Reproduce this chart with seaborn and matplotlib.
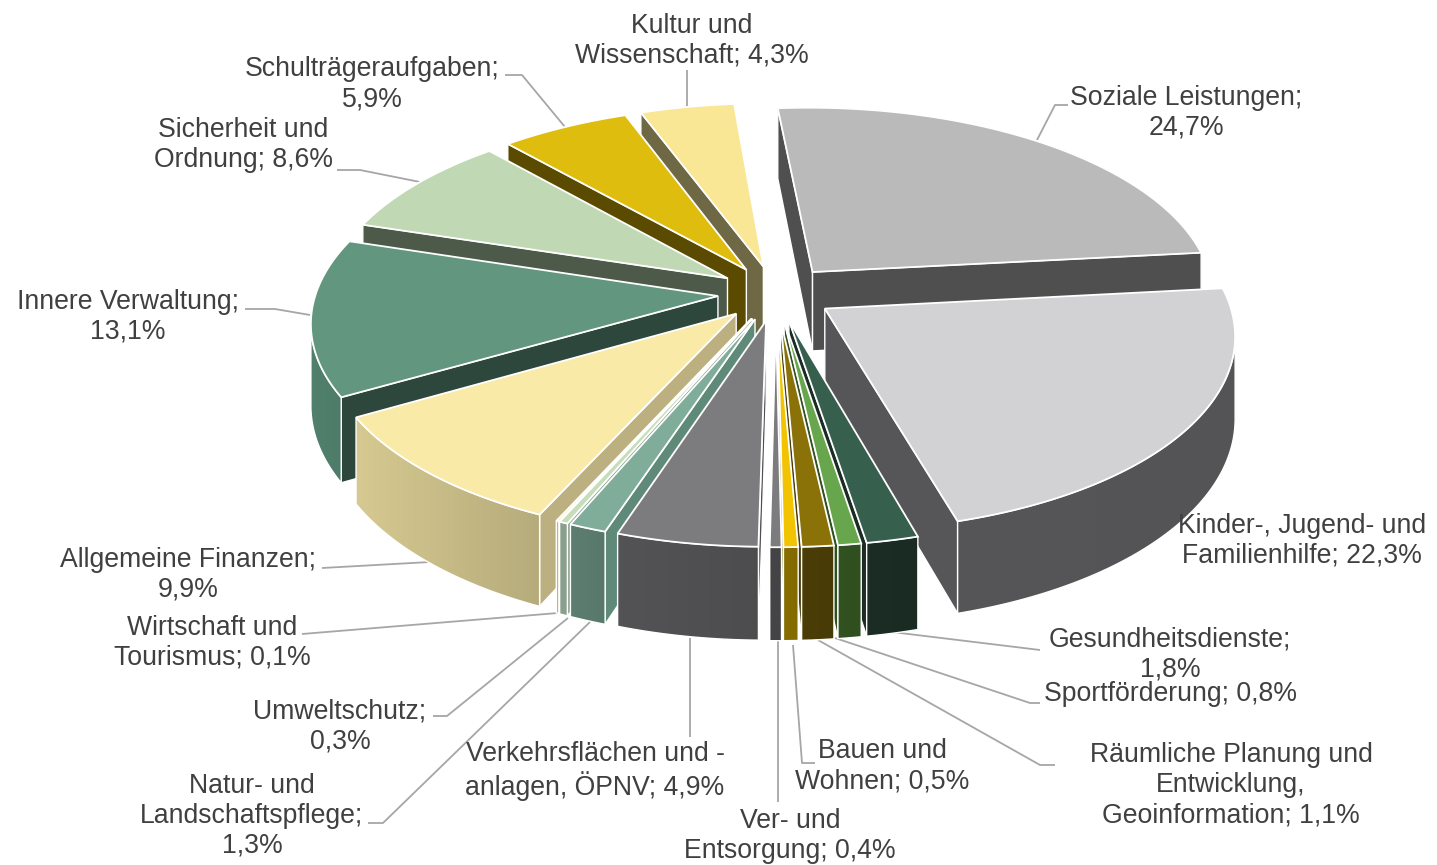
import numpy as np
import matplotlib
matplotlib.use("Agg")
import matplotlib.pyplot as plt
from matplotlib.colors import to_rgb
from matplotlib.patches import Polygon
import seaborn as sns

categories = ["Soziale Leistungen", "Kinder-, Jugend- und Familienhilfe", "Gesundheitsdienste",
              "Sportförderung", "Räumliche Planung und Entwicklung, Geoinformation", "Bauen und Wohnen",
              "Ver- und Entsorgung", "Verkehrsflächen und -anlagen, ÖPNV", "Natur- und Landschaftspflege",
              "Umweltschutz", "Wirtschaft und Tourismus", "Allgemeine Finanzen", "Innere Verwaltung",
              "Sicherheit und Ordnung", "Schulträgeraufgaben", "Kultur und Wissenschaft"]
shares = [24.7, 22.3, 1.8, 0.8, 1.1, 0.5, 0.4, 4.9, 1.3, 0.3, 0.1, 9.9, 13.1, 8.6, 5.9, 4.3]

top_colors = ["#BABABA", "#D2D2D4", "#375F4E", "#68A64E", "#8A7209", "#F2C300", "#7C7C7E", "#7C7C7E",
              "#7FAD9A", "#C6DDBA", "#F5E9A0", "#F9EAA8", "#62967E", "#C0D9B4", "#DFBD0F", "#F9E796"]
rim_colors = ["#4E4E4E", "#555557", "#1A2C24", "#31501F", "#493C06", "#856C00", "#444446", "#505052",
              "#5A7B6E", "#8AA08D", "#C9BC50", "#C6BA86", "#4F7E6A", "#4E5A49", "#5B4B00", "#6F6845"]
cut_colors = ["#4F4F4F", "#565658", "#1A2C24", "#31501F", "#493C06", "#856C00", "#444446", "#505052",
              "#5F8A7A", "#8AA08D", "#C9BC50", "#BDB080", "#2D473C", "#4E5A49", "#5B4B00", "#6F6845"]
rim_gradient = [0.0, 0.01, 0.02, 0.02, 0.02, 0.02, 0.0, 0.04,
                0.03, 0.0, 0.0, 0.08, 0.02, 0.0, 0.0, 0.0]

label_texts = ["Soziale Leistungen;\n24,7%", "Kinder-, Jugend- und\nFamilienhilfe; 22,3%", "Gesundheitsdienste;\n1,8%",
               "Sportförderung; 0,8%", "Räumliche Planung und\nEntwicklung,\nGeoinformation; 1,1%",
               "Bauen und\nWohnen; 0,5%", "Ver- und\nEntsorgung; 0,4%", "Verkehrsflächen und -\nanlagen, ÖPNV; 4,9%",
               "Natur- und\nLandschaftspflege;\n1,3%", "Umweltschutz;\n0,3%", "Wirtschaft und\nTourismus; 0,1%",
               "Allgemeine Finanzen;\n9,9%", "Innere Verwaltung;\n13,1%", "Sicherheit und\nOrdnung; 8,6%",
               "Schulträgeraufgaben;\n5,9%", "Kultur und\nWissenschaft; 4,3%"]
label_xy = [(1186, 113), (1302, 541), (1170, 655), (1170, 694), (1231, 785), (882, 766), (790, 836), (595, 771),
            (252, 816), (340, 726), (212, 643), (188, 575), (128, 317), (243, 145), (372, 84), (692, 41)]
leaders = [[(1068, 105), (1055, 105), (1037, 140)], None, [(892, 632), (1040, 650)],
           [(835, 638), (1030, 703), (1040, 703)], [(818, 640), (1040, 765), (1055, 765)],
           [(793, 645), (802, 763), (815, 763)], [(778, 640), (778, 802)], [(690, 638), (690, 737)],
           [(590, 622), (383, 823), (368, 823)], [(568, 618), (447, 716), (433, 716)], [(558, 613), (302, 634)],
           [(430, 562), (322, 568)], [(310, 315), (275, 309), (245, 309)], [(420, 182), (360, 170), (337, 170)],
           [(565, 127), (522, 75), (505, 75)], [(687, 70), (687, 107)]]

# view geometry
CX, CY = 776, 293
A, B, PERSP, DEPTH = 402, 190, 0.126, 80
START = -5.0
EXPLODE = 0.145

sns.set_theme(style="white")
plt.rcParams["font.family"] = ["Liberation Sans", "DejaVu Sans"]

fig = plt.figure(figsize=(14.37, 8.65), dpi=100)
ax = fig.add_axes([0, 0, 1, 1])
ax.set_xlim(0, 1437)
ax.set_ylim(865, 0)
ax.axis("off")


def project(X, Y, bottom=False):
    w = 1 - PERSP * Y
    return CX + A * X / w, CY + (B * Y + (DEPTH if bottom else 0)) / w


def visible(poly):
    p = np.array(poly)
    x, y = p[:, 0], p[:, 1]
    return np.sum(x * np.roll(y, -1) - np.roll(x, -1) * y) < 0


def wall(a, b):
    return [project(*a), project(*b), project(*b, bottom=True), project(*a, bottom=True)]


edges = np.cumsum([0] + shares) / sum(shares) * 360 + START
slices = []
for i in range(len(shares)):
    t0, t1 = np.radians(edges[i]), np.radians(edges[i + 1])
    mid = (t0 + t1) / 2
    # disc Y grows towards the viewer; angle 0 points away from the viewer
    apex = (EXPLODE * np.sin(mid), -EXPLODE * np.cos(mid))
    th = np.linspace(t0, t1, max(4, int(shares[i] * 4)))
    rim = [(apex[0] + np.sin(t), apex[1] - np.cos(t)) for t in th]
    slices.append((apex[1] - 0.5 * np.cos(mid), i, apex, rim))

for _, i, apex, rim in sorted(slices, key=lambda s: s[0]):
    for q in (wall(apex, rim[0]), wall(rim[-1], apex)):
        if visible(q):
            ax.add_patch(Polygon(q, closed=True, fc=cut_colors[i], ec="white", lw=1.0, zorder=2))
    rim_vis = [q for q in (wall(a, b) for a, b in zip(rim[:-1], rim[1:])) if visible(q)]
    if rim_vis:
        # rim as one band with a horizontal gradient: lighter left, darker right
        band = [q[0] for q in rim_vis] + [rim_vis[-1][1], rim_vis[-1][2]] + [q[3] for q in rim_vis[::-1]]
        b = np.array(band)
        base = np.array(to_rgb(rim_colors[i]))
        g = rim_gradient[i]
        grad = np.clip(base[None, None, :] * np.linspace(1 + g, 1 - g, 64)[None, :, None], 0, 1)
        im = ax.imshow(grad, extent=(b[:, 0].min(), b[:, 0].max(), b[:, 1].max(), b[:, 1].min()),
                       aspect="auto", zorder=2, interpolation="bilinear")
        outline = Polygon(band, closed=True, fill=False, ec="white", lw=1.0, zorder=2)
        ax.add_patch(outline)
        im.set_clip_path(outline)
    top = [project(*apex)] + [project(*p) for p in rim]
    ax.add_patch(Polygon(top, closed=True, fc=top_colors[i], ec="white", lw=1.3, joinstyle="miter", zorder=2))

ax.set_xlim(0, 1437)
ax.set_ylim(865, 0)

for pts in leaders:
    if pts:
        ax.plot(*zip(*pts), color="#A6A6A6", lw=1.3, zorder=1.5, solid_capstyle="butt")

for txt, (x, y) in zip(label_texts, label_xy):
    ax.text(x, y, txt, ha="center", va="center", fontsize=19.2, color="#404040", linespacing=1.2, zorder=5)

sns.despine(ax=ax, left=True, bottom=True)
fig.savefig("out.png", dpi=100)
